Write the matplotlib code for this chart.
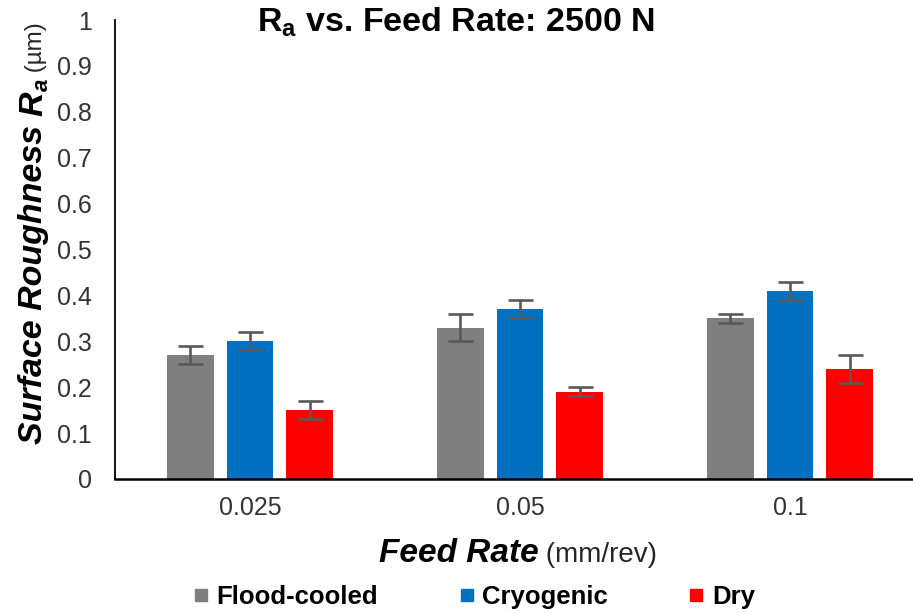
import matplotlib
matplotlib.use("Agg")
import matplotlib.pyplot as plt
from matplotlib.transforms import IdentityTransform
from matplotlib.lines import Line2D
import numpy as np

plt.rcParams['font.family'] = ['Liberation Sans', 'DejaVu Sans']
plt.rcParams['mathtext.fontset'] = 'custom'
plt.rcParams['mathtext.rm'] = 'Liberation Sans'
plt.rcParams['mathtext.bf'] = 'Liberation Sans:bold'
plt.rcParams['mathtext.it'] = 'Liberation Sans:italic'

categories = ["0.025", "0.05", "0.1"]
series_names = ["Flood-cooled", "Cryogenic", "Dry"]
flood = [0.27, 0.33, 0.35]
flood_err = [0.02, 0.03, 0.01]
cryo = [0.30, 0.37, 0.41]
cryo_err = [0.02, 0.02, 0.02]
dry = [0.15, 0.19, 0.24]
dry_err = [0.02, 0.01, 0.03]
yticks = [0, 0.1, 0.2, 0.3, 0.4, 0.5, 0.6, 0.7, 0.8, 0.9, 1]
ytick_labels = ["0", "0.1", "0.2", "0.3", "0.4", "0.5", "0.6", "0.7", "0.8", "0.9", "1"]
colors = ["#7f7f7f", "#0070c0", "#ff0000"]

W, H = 913, 613
fig = plt.figure(figsize=(W / 100, H / 100), dpi=100)
ax = fig.add_axes([115 / W, 134 / H, 810 / W, 459 / H])

x = np.arange(len(categories))
bw = 0.174
step = 0.222
for i, (vals, errs) in enumerate([(flood, flood_err), (cryo, cryo_err), (dry, dry_err)]):
    ax.bar(x + (i - 1) * step, vals, bw, color=colors[i], zorder=2)
    ax.errorbar(x + (i - 1) * step, vals, yerr=errs, fmt='none', ecolor='#595959',
                elinewidth=1.9, capsize=9, capthick=1.9, zorder=3)

ax.set_xlim(-0.5, 2.5)
ax.set_ylim(0, 1)
ax.set_yticks(yticks)
ax.set_yticklabels(ytick_labels)
ax.set_xticks(x)
ax.set_xticklabels(categories)
ax.tick_params(axis='both', length=0, labelsize=18, colors='#333333')
ax.tick_params(axis='y', pad=16.5)
ax.tick_params(axis='x', pad=12.5)
for s in ['top', 'right']:
    ax.spines[s].set_visible(False)
ax.spines['left'].set_linewidth(1.3)
ax.spines['bottom'].set_linewidth(1.8)
ax.spines['left'].set_color('black')
ax.spines['bottom'].set_color('black')

renderer = fig.canvas.get_renderer()

def chain(pieces, cx, cy, rotation=0):
    texts = []
    for s, props, off in pieces:
        t = fig.text(0, 0, s, transform=IdentityTransform(), ha='left', va='baseline',
                     rotation=rotation, rotation_mode='anchor', **props)
        texts.append((t, off))
    lens = []
    for t, off in texts:
        bb = t.get_window_extent(renderer)
        lens.append(bb.height if rotation == 90 else bb.width)
    total = sum(lens)
    pos = -total / 2
    for (t, off), L in zip(texts, lens):
        if rotation == 90:
            t.set_position((cx + off, cy + pos))
        else:
            t.set_position((cx + pos, cy - off))
        pos += L

# Title
fig.text(456, H - 32, r"$\mathbf{R_a}$ vs. Feed Rate: 2500 N", transform=IdentityTransform(),
         ha='center', va='baseline', fontsize=24.5, fontweight='bold')

# X label
chain([("Feed Rate", dict(fontsize=24, fontweight='bold', style='italic'), 0),
       (" (mm/rev)", dict(fontsize=20, color='#262626'), 0)], 518, H - 562)

# Y label
chain([("Surface Roughness ", dict(fontsize=24.5, fontweight='bold', style='italic'), 0),
       ("R", dict(fontsize=24.5, fontweight='bold', style='italic'), 0),
       ("a", dict(fontsize=16, style='italic', fontweight='bold'), 6),
       (" (\u00b5m)", dict(fontsize=17.5, color='#262626'), 0)], 42, H - 233, rotation=90)

handles = [Line2D([], [], marker='s', linestyle='none', markersize=9, color=c) for c in colors]
fig.legend(handles, series_names, loc='center', bbox_to_anchor=(474 / W, 1 - 597 / H), ncol=3,
           frameon=False, prop=dict(size=18.5, weight='bold'), handletextpad=0.3,
           columnspacing=3.15, handlelength=0.6)

fig.savefig("out.png", dpi=100)
